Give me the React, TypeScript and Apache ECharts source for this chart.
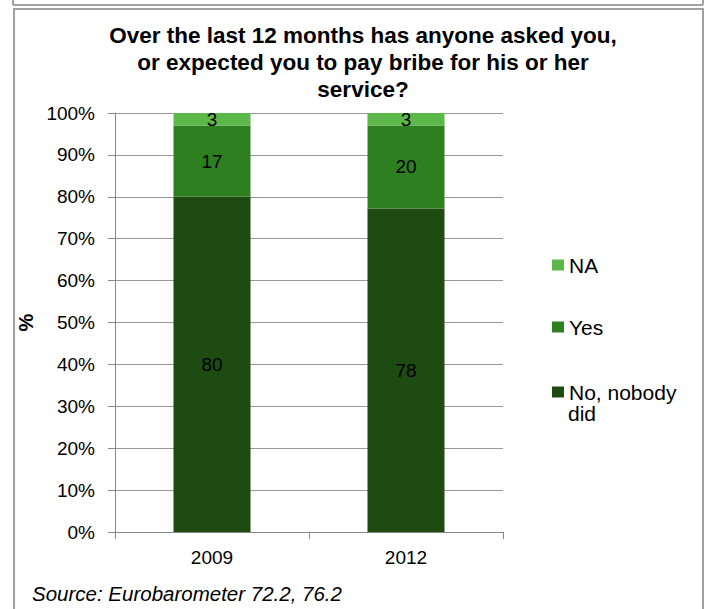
import React, { useEffect, useRef } from "react";
import * as echarts from "echarts";

const categories = ["2009", "2012"];
const noValues = [80, 78];
const yesValues = [17, 20];
const naValues = [3, 3];
const seriesNames = ["No, nobody did", "Yes", "NA"];
const colors = ["#1e4b12", "#2e7f1f", "#5cb84b"];

const FONT = "'Liberation Sans', Arial, sans-serif";

export default function App() {
  const ref = useRef<HTMLDivElement>(null);
  useEffect(() => {
    document.body.style.margin = "0";
    const chart = echarts.init(ref.current!, undefined, { renderer: "svg" });
    const totals = categories.map((_, i) => noValues[i] + yesValues[i] + naValues[i]);
    const raw = [noValues, yesValues, naValues];
    const series = raw.map((vals, s) => ({
      name: seriesNames[s],
      type: "bar",
      stack: "total",
      barWidth: 77,
      itemStyle: { color: colors[s] },
      label: {
        show: true,
        position: "inside",
        color: "#000",
        fontSize: 19,
        fontFamily: FONT,
        formatter: (p: any) => String(vals[p.dataIndex]),
      },
      data: vals.map((v, i) => (v / totals[i]) * 100),
    }));
    const legendText = { fontSize: 21, fontFamily: FONT, color: "#000", lineHeight: 22 };
    chart.setOption({
      animation: false,
      textStyle: { fontFamily: FONT },
      title: {
        text: "Over the last 12 months has anyone asked you,\nor expected you to pay bribe for his or her\nservice?",
        left: 358,
        textAlign: "center",
        top: 17,
        textStyle: { fontSize: 22.5, fontWeight: "bold", lineHeight: 27, color: "#000", fontFamily: FONT },
      },
      legend: [
        { data: ["NA"], top: 254, left: 552 },
        { data: ["Yes"], top: 316, left: 552 },
        { data: ["No, nobody did"], top: 381, left: 552 },
      ].map((l) => ({
        ...l,
        orient: "vertical",
        itemWidth: 12,
        itemHeight: 11,
        itemGap: 0,
        padding: 0,
        icon: "rect",
        selectedMode: false,
        textStyle: legendText,
        formatter: (n: string) => (n === "No, nobody did" ? "No, nobody" : n),
      })),
      grid: { left: 115, top: 113, right: 206, bottom: 77 },
      xAxis: {
        type: "category",
        data: categories,
        axisLine: { lineStyle: { color: "#888", width: 1 } },
        axisTick: { show: true, length: 7, lineStyle: { color: "#888" } },
        axisLabel: { color: "#000", fontSize: 19, fontFamily: FONT, margin: 16 },
      },
      yAxis: {
        type: "value",
        min: 0,
        max: 100,
        interval: 10,
        name: "%",
        nameLocation: "middle",
        nameRotate: 90,
        nameGap: 75,
        nameTextStyle: { fontSize: 20, fontWeight: "bold", color: "#000", fontFamily: FONT },
        axisLine: { show: true, lineStyle: { color: "#888", width: 1 } },
        axisTick: { show: true, length: 7, lineStyle: { color: "#888" } },
        axisLabel: { formatter: "{value}%", color: "#000", fontSize: 19, fontFamily: FONT, margin: 20 },
        splitLine: { lineStyle: { color: "#999", width: 1 } },
      },
      graphic: [
        { type: "line", shape: { x1: 13, y1: 0, x2: 13, y2: 5 }, style: { stroke: "#a0a0a0", lineWidth: 2 } },
        { type: "line", shape: { x1: 703, y1: 0, x2: 703, y2: 5 }, style: { stroke: "#a0a0a0", lineWidth: 2 } },
        { type: "line", shape: { x1: 13, y1: 5, x2: 703, y2: 5 }, style: { stroke: "#a0a0a0", lineWidth: 2 } },
        { type: "rect", shape: { x: 14, y: 9, width: 689, height: 640 }, style: { fill: "none", stroke: "#a0a0a0", lineWidth: 2 } },
        { type: "text", left: 568, top: 403, style: { text: "did", fontSize: 21, fontFamily: FONT, fill: "#000" } },
        {
          type: "text",
          left: 32,
          top: 583,
          style: { text: "Source: Eurobarometer 72.2, 76.2", fontSize: 20.5, fontStyle: "italic", fontFamily: FONT, fill: "#000" },
        },
      ],
      series,
    });
    return () => chart.dispose();
  }, []);
  return <div ref={ref} style={{ width: 709, height: 609 }} />;
}
